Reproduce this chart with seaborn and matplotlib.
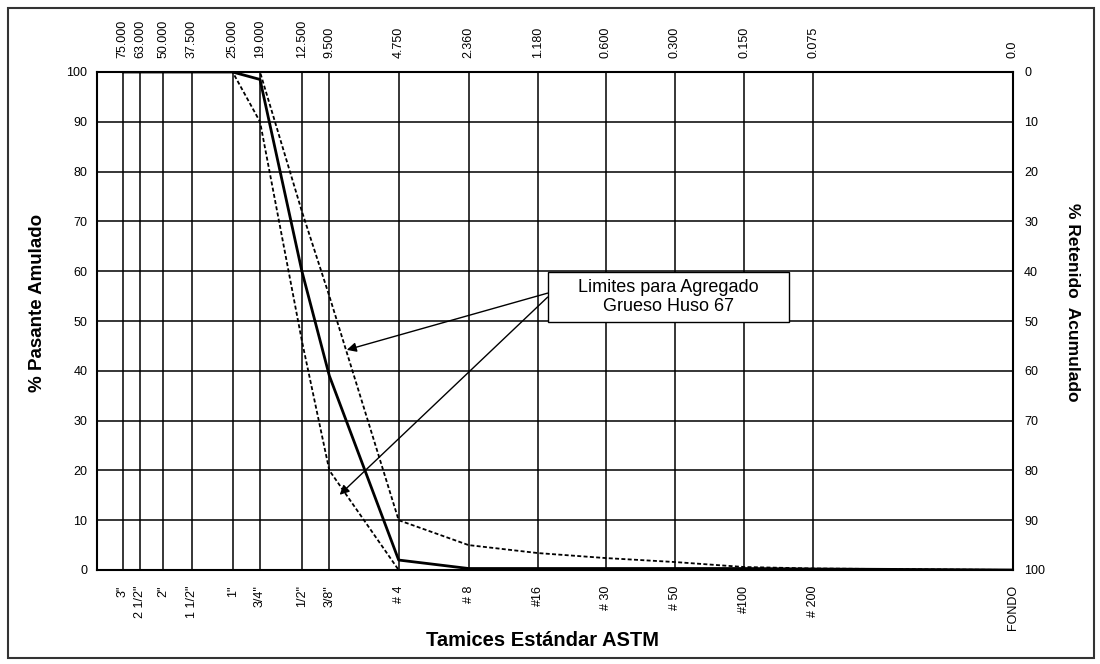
#import modules
import pandas as pd
import matplotlib
matplotlib.use("Agg")
import matplotlib.pyplot as plt
from matplotlib.patches import Rectangle
from matplotlib.ticker import NullLocator
import seaborn as sns

# tamices ASTM (abertura en mm, FONDO = 0.0)
tamices = ['3"', '2 1/2"', '2"', '1 1/2"', '1"', '3/4"', '1/2"', '3/8"',
           '# 4', '# 8', '#16', '# 30', '# 50', '#100', '# 200', 'FONDO']
abertura_mm = [75.0, 63.0, 50.0, 37.5, 25.0, 19.0, 12.5, 9.5,
               4.75, 2.36, 1.18, 0.6, 0.3, 0.15, 0.075, 0.0]
abertura_txt = ['75.000', '63.000', '50.000', '37.500', '25.000', '19.000',
                '12.500', '9.500', '4.750', '2.360', '1.180', '0.600',
                '0.300', '0.150', '0.075', '0.0']

# % pasante acumulado
pasante_muestra = [100, 100, 100, 100, 100, 98.5, 60, 39, 2, 0.3, 0.3, 0.3, 0.3, 0.3, 0.2, 0]
limite_superior = [100, 100, 100, 100, 100, 100, 72, 55, 10, 5, 3.4, 2.4, 1.6, 0.6, 0.3, 0]
limite_inferior = [100, 100, 100, 100, 100, 90, 46, 20, 0, 0, 0, 0, 0, 0, 0, 0]

# posicion del fondo en el eje logaritmico (no tiene abertura)
POS_FONDO = 0.0102
X_MAX = 97

x_pos = [a if a > 0 else POS_FONDO for a in abertura_mm]
df = pd.DataFrame({"abertura": x_pos,
                   "muestra": pasante_muestra,
                   "sup": limite_superior,
                   "inf": limite_inferior})

sns.set_style("white")
plt.rcParams['font.family'] = ['Liberation Sans', 'DejaVu Sans']
plt.rcParams['text.color'] = 'black'
plt.rcParams['xtick.color'] = 'black'
plt.rcParams['ytick.color'] = 'black'
narrow = ['Liberation Sans Narrow', 'Liberation Sans', 'DejaVu Sans']

fig = plt.figure(figsize=(11, 6.64), dpi=100)
ax = fig.add_axes([97 / 1100, 1 - 570 / 664, 916 / 1100, 498 / 664])
ax.set_xscale('log')

# curvas granulometricas
dash = (0, (2.2, 1.3))
sns.lineplot(data=df, x="abertura", y="inf", color="black", lw=1.3,
             linestyle=dash, estimator=None, sort=False, ax=ax)
sns.lineplot(data=df, x="abertura", y="sup", color="black", lw=1.3,
             linestyle=dash, estimator=None, sort=False, ax=ax)
sns.lineplot(data=df, x="abertura", y="muestra", color="black", lw=2.0,
             estimator=None, sort=False, ax=ax)

ax.set_xlim(X_MAX, POS_FONDO)
ax.set_ylim(0, 100)
ax.set_xticks(x_pos)
ax.set_xticklabels(tamices, rotation=90, fontsize=9, family=narrow)
ax.xaxis.set_minor_locator(NullLocator())
ax.set_yticks(range(0, 101, 10))
ax.set_yticklabels([str(v) for v in range(0, 101, 10)], fontsize=9, family=narrow)
ax.tick_params(axis='y', length=0, pad=7)
ax.tick_params(axis='x', length=0, pad=11)
ax.grid(True, color="black", lw=1.1)
ax.set_xlabel("")
ax.set_ylabel("")
for s in ax.spines.values():
    s.set_color("black")
    s.set_linewidth(1.5)

# eje superior: abertura en mm
axt = ax.twiny()
axt.set_xscale('log')
axt.set_xlim(ax.get_xlim())
axt.set_xticks(x_pos)
axt.set_xticklabels(abertura_txt, rotation=90, fontsize=9, family=narrow)
axt.xaxis.set_minor_locator(NullLocator())
axt.tick_params(axis='x', length=0, pad=10)

# eje derecho: % retenido
axr = ax.twinx()
axr.set_ylim(100, 0)
axr.set_yticks(range(0, 101, 10))
axr.set_yticklabels([str(v) for v in range(0, 101, 10)], fontsize=9, family=narrow)
axr.tick_params(axis='y', length=0, pad=8)
for a in (axt, axr):
    for s in a.spines.values():
        s.set_visible(False)

# cuadro de texto y flechas
ax.add_patch(Rectangle((0.492, 0.498), 0.264, 0.1004, transform=ax.transAxes,
                       facecolor="white", edgecolor="black", lw=1.0, zorder=5))
ax.text(0.624, 0.548, "Limites para Agregado\nGrueso Huso 67", transform=ax.transAxes,
        ha="center", va="center", fontsize=13, linespacing=1.1, zorder=6)
arrow = dict(arrowstyle="-|>", color="black", lw=1.0, mutation_scale=14, shrinkA=0, shrinkB=0)
ax.annotate("", xy=(7.98, 44.2), xytext=(0.492, 0.556), textcoords=ax.transAxes,
            arrowprops=arrow, zorder=4)
ax.annotate("", xy=(8.57, 15.1), xytext=(0.492, 0.548), textcoords=ax.transAxes,
            arrowprops=arrow, zorder=4)

# titulos de ejes
fig.text(542 / 1100, 1 - 640 / 664, "Tamices Estándar ASTM", ha="center", va="center",
         fontsize=14.5, fontweight="bold")
fig.text(38 / 1100, 1 - 303 / 664, "% Pasante Amulado", ha="center", va="center",
         rotation=90, fontsize=13.5, fontweight="bold")
fig.text(1073 / 1100, 1 - 302 / 664, "% Retenido  Acumulado", ha="center", va="center",
         rotation=-90, fontsize=12.5, fontweight="bold")

# marco exterior
fig.add_artist(Rectangle((8 / 1100, 6 / 664), 1086 / 1100, 650 / 664,
                         transform=fig.transFigure, fill=False,
                         edgecolor="#333333", lw=1.5))

fig.savefig("out.png", dpi=100)
